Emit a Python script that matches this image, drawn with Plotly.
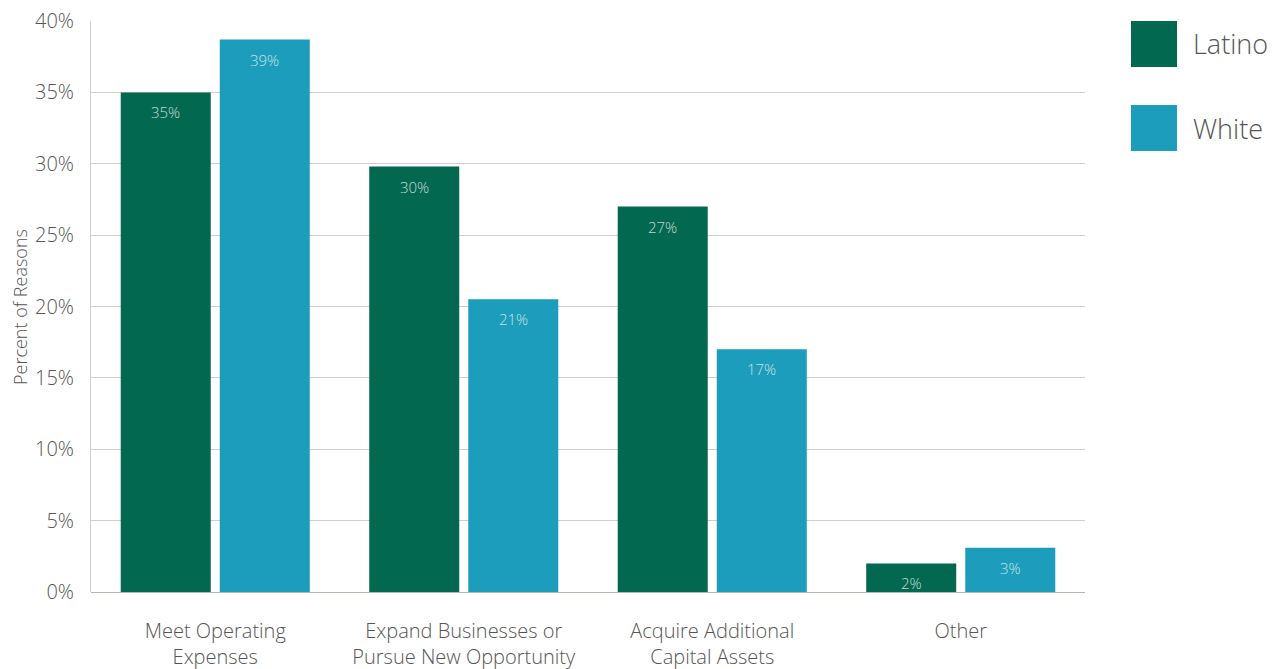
import plotly.graph_objects as go

categories = ["Meet Operating<br>Expenses", "Expand Businesses or<br>Pursue New Opportunity",
              "Acquire Additional<br>Capital Assets", "Other"]
latino = [35.0, 29.8, 27.0, 2.0]
white = [38.7, 20.5, 17.0, 3.1]
latino_labels = ["35%", "30%", "27%", "2%"]
white_labels = ["39%", "21%", "17%", "3%"]
series_names = ["Latino", "White"]
colors = ["#02684f", "#1c9dbc"]
y_ticks = [0, 5, 10, 15, 20, 25, 30, 35, 40]
y_ticklabels = [f"{t}%" for t in y_ticks]
y_title = "Percent of Reasons"

FONT = "Source Sans Pro, Open Sans, Lato, sans-serif"
TXT = "#555555"
GRID = "#d3cec7"
LABEL_COLOR = "rgba(230,240,240,0.85)"

fig = go.Figure()
for name, vals, col in zip(series_names, [latino, white], colors):
    fig.add_trace(go.Bar(
        x=categories, y=vals, name=name, marker_color=col, marker_line_width=0,
        showlegend=False,
    ))

# value labels inside bar tops
for k, (vals, labs) in enumerate(zip([latino, white], [latino_labels, white_labels])):
    for cat, v, lab in zip(categories, vals, labs):
        fig.add_annotation(x=cat, y=v, xref="x", yref="y", text=lab, showarrow=False,
                           xshift=(-49.5 if k == 0 else 49.5), yshift=-20, yanchor="middle",
                           font=dict(family=FONT, size=15, color=LABEL_COLOR, weight=300))

# custom legend (large swatches)
for i, (name, col) in enumerate(zip(series_names, colors)):
    y0 = 1 - i * 84 / 571
    fig.add_shape(type="rect", xref="paper", yref="paper",
                  x0=(1131 - 91) / 994, x1=(1177 - 91) / 994,
                  y0=y0 - 46 / 571, y1=y0, fillcolor=col, line_width=0)
    fig.add_annotation(xref="paper", yref="paper", x=(1191 - 91) / 994, y=y0 - 23 / 571,
                       text=name, showarrow=False, xanchor="left", yanchor="middle",
                       font=dict(family=FONT, size=27, color=TXT, weight=300))

# y-axis title
fig.add_annotation(xref="paper", yref="paper", x=(20 - 91) / 994, y=(592 - 307) / 571,
                   text=y_title, textangle=-90, showarrow=False, xanchor="center", yanchor="middle",
                   font=dict(family=FONT, size=18, color=TXT, weight=300))

fig.update_layout(
    width=1282, height=669,
    margin=dict(l=91, r=197, t=21, b=77),
    paper_bgcolor="white", plot_bgcolor="white",
    barmode="group", bargap=0.203, bargroupgap=0.091,
    font=dict(family=FONT, color=TXT, weight=300),
    xaxis=dict(showgrid=False, showline=False, ticks="", automargin=False,
               tickfont=dict(size=20, color=TXT, weight=300), ticklabelstandoff=25),
    yaxis=dict(range=[0, 40], tickvals=y_ticks, ticktext=y_ticklabels, automargin=False,
               showgrid=True, gridcolor=GRID, gridwidth=1,
               showline=True, linecolor=GRID, linewidth=1,
               zeroline=True, zerolinecolor="#bdb6ad", zerolinewidth=1,
               ticks="", tickfont=dict(size=20, color=TXT, weight=300), ticklabelstandoff=12),
)

fig.write_html("out.html")
